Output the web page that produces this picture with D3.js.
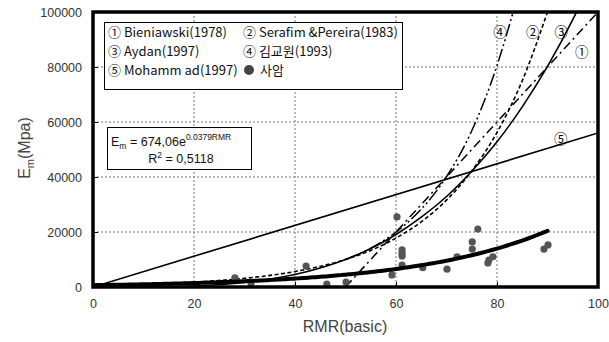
<!DOCTYPE html>
<html>
<head>
<meta charset="utf-8">
<script src="https://cdn.jsdelivr.net/npm/d3@7"></script>
<style>
  html, body { margin: 0; padding: 0; background: #fff; }
  svg { display: block; }
  text { font-family: "Liberation Sans", Arial, "Noto Sans CJK KR", sans-serif; }
  .kr { font-family: "Noto Sans CJK KR", "Liberation Sans", sans-serif; }
</style>
</head>
<body>
<svg id="chart" width="609" height="342"></svg>
<script>
// Axis ticks
const xTicks = [0, 20, 40, 60, 80, 100];
const yTicks = [0, 20000, 40000, 60000, 80000, 100000];

// Empirical relations, sampled as (RMR, Em [MPa])
const bieniawskiRMR = [50, 100];
const bieniawskiEm  = [0, 100000];

const serafimRMR = [0, 10, 20, 30, 40, 50, 55, 60, 65, 70, 75, 80, 85, 90];
const serafimEm  = [560, 1000, 1780, 3160, 5620, 10000, 13300, 17800, 23700, 31600, 42200, 56200, 75000, 100000];

const aydanRMR = [0, 10, 20, 30, 40, 50, 55, 60, 65, 70, 75, 80, 85, 90, 95, 96];
const aydanEm  = [0, 34, 390, 1640, 4550, 10000, 14000, 19100, 25400, 32900, 42100, 52800, 65500, 80200, 97200, 100900];

const kimRMR = [50, 55, 60, 65, 70, 75, 80, 83.2];
const kimEm  = [9980, 14100, 20000, 28300, 40100, 56800, 80500, 100000];

const mohammadRMR = [0, 100];
const mohammadEm  = [0, 56000];

// Sandstone measurements
const rockRMR = [28.1, 31.3, 42.2, 46.3, 50.1, 59.2, 60.2, 61.2, 61.2, 61.2, 61.2, 65.3, 70.1, 72.1, 75.1, 75.1, 76.2, 78.2, 78.4, 79.2, 89.3, 90.1];
const rockEm  = [3300, 1400, 7600, 1100, 1800, 4400, 25500, 13500, 12300, 11300, 8000, 7000, 6500, 11000, 16400, 13800, 21100, 8700, 9800, 11000, 13800, 15300];

// Regression on the sandstone data: Em = a * exp(b * RMR)
const fitA = 674.06;
const fitB = 0.0379;
const fitRange = [0, 90];

const legendItems = [
  { label: "① Bieniawski(1978)", col: 0, row: 0 },
  { label: "② Serafim &Pereira(1983)", col: 1, row: 0 },
  { label: "③ Aydan(1997)", col: 0, row: 1 },
  { label: "④ 김교원(1993)", col: 1, row: 1 },
  { label: "⑤ Mohamm ad(1997)", col: 0, row: 2 }
];

const svg = d3.select("#chart");
const pLeft = 93, pRight = 598, pTop = 12, pBottom = 287;
const x = d3.scaleLinear().domain([0, 100]).range([pLeft, pRight]);
const y = d3.scaleLinear().domain([0, 100000]).range([pBottom, pTop]);

svg.append("defs").append("clipPath").attr("id", "plotClip")
  .append("rect").attr("x", pLeft).attr("y", pTop)
  .attr("width", pRight - pLeft).attr("height", pBottom - pTop);

// Grid
const grid = svg.append("g");
grid.selectAll(".gx").data(xTicks.slice(1, -1)).join("line")
  .attr("x1", d => x(d)).attr("x2", d => x(d))
  .attr("y1", pTop).attr("y2", pBottom)
  .attr("stroke", "#777").attr("stroke-width", 1).attr("stroke-dasharray", "2,2");
grid.selectAll(".gy").data(yTicks.slice(1, -1)).join("line")
  .attr("y1", d => y(d)).attr("y2", d => y(d))
  .attr("x1", pLeft).attr("x2", pRight)
  .attr("stroke", "#777").attr("stroke-width", 1).attr("stroke-dasharray", "2,2");

// Axes
const xAxis = d3.axisBottom(x).tickValues(xTicks).tickFormat(d3.format("d")).tickSize(-5).tickPadding(12);
const yAxis = d3.axisLeft(y).tickValues(yTicks).tickFormat(d3.format("d")).tickSize(-5).tickPadding(11);
const gx = svg.append("g").attr("transform", `translate(0,${pBottom})`).call(xAxis);
const gy = svg.append("g").attr("transform", `translate(${pLeft},0)`).call(yAxis);
[gx, gy].forEach(g => {
  g.select(".domain").remove();
  g.selectAll("line").attr("stroke", "#000");
  g.selectAll("text").attr("font-size", 12.5).attr("fill", "#333")
    .style("font-family", "'Liberation Sans', Arial, sans-serif");
});

const plot = svg.append("g").attr("clip-path", "url(#plotClip)");
const line = d3.line().x(d => x(d[0])).y(d => y(d[1])).curve(d3.curveMonotoneX);
const zip = (a, b) => a.map((v, i) => [v, b[i]]);

function drawCurve(pts, dash, width) {
  plot.append("path").datum(pts)
    .attr("d", line)
    .attr("fill", "none").attr("stroke", "#000")
    .attr("stroke-width", width)
    .attr("stroke-dasharray", dash);
}
drawCurve(zip(mohammadRMR, mohammadEm), null, 1.6);
drawCurve(zip(aydanRMR, aydanEm), null, 1.6);
drawCurve(zip(serafimRMR, serafimEm), "4,2.5", 1.6);
drawCurve(zip(bieniawskiRMR, bieniawskiEm), "9,4,2,4", 1.5);
drawCurve(zip(kimRMR, kimEm), "13,3,2,3,2,3", 1.5);

// Sandstone points
plot.selectAll(".pt").data(zip(rockRMR, rockEm)).join("circle")
  .attr("cx", d => x(d[0])).attr("cy", d => y(d[1])).attr("r", 3.6)
  .attr("fill", "#555");

// Fitted exponential trend
const fitPts = d3.range(fitRange[0], fitRange[1] + 0.01, 1).map(r => [r, fitA * Math.exp(fitB * r)]);
plot.append("path").datum(fitPts).attr("d", line)
  .attr("fill", "none").attr("stroke", "#000").attr("stroke-width", 4).attr("stroke-linecap", "round");

// Frame
svg.append("rect").attr("x", pLeft).attr("y", pTop)
  .attr("width", pRight - pLeft).attr("height", pBottom - pTop)
  .attr("fill", "none").attr("stroke", "#000").attr("stroke-width", 3.5);

// Curve labels
const curveLabels = [
  { t: "④", r: 80.6, e: 93000 },
  { t: "②", r: 87.1, e: 93000 },
  { t: "③", r: 92.7, e: 93000 },
  { t: "①", r: 96.8, e: 86000 },
  { t: "⑤", r: 92.6, e: 54300 }
];
svg.selectAll(".cl").data(curveLabels).join("text")
  .attr("class", "kr")
  .attr("x", d => x(d.r)).attr("y", d => y(d.e))
  .attr("text-anchor", "middle").attr("dominant-baseline", "central")
  .attr("font-size", 13.5).attr("fill", "#000").text(d => d.t);

// Legend
const lg = svg.append("g");
lg.append("rect").attr("x", 104.5).attr("y", 22.5).attr("width", 298).attr("height", 67)
  .attr("fill", "#fff").attr("stroke", "#000").attr("stroke-width", 1);
const colX = [108, 243], rowY = [37, 56, 75];
lg.selectAll(".li").data(legendItems).join("text")
  .attr("class", "kr")
  .attr("x", d => colX[d.col]).attr("y", d => rowY[d.row])
  .attr("font-size", 13).attr("fill", "#111").text(d => d.label);
lg.append("circle").attr("cx", colX[1] + 6).attr("cy", rowY[2] - 5).attr("r", 5).attr("fill", "#444");
lg.append("text").attr("class", "kr").attr("x", colX[1] + 17).attr("y", rowY[2])
  .attr("font-size", 13).attr("fill", "#111").text("사암");

// Regression equation box
const eq = svg.append("g");
eq.append("rect").attr("x", 107.5).attr("y", 127.5).attr("width", 144).attr("height", 42)
  .attr("fill", "#fff").attr("stroke", "#000").attr("stroke-width", 1);
const t1 = eq.append("text").attr("x", 111).attr("y", 146).attr("font-size", 12.5).attr("fill", "#111");
t1.append("tspan").text("E");
t1.append("tspan").attr("font-size", 8.5).attr("dy", 3).text("m");
t1.append("tspan").attr("dy", -3).text(" = 674,06e");
t1.append("tspan").attr("font-size", 8.5).attr("dy", -6).text("0.0379RMR");
const t2 = eq.append("text").attr("x", 181).attr("y", 163).attr("text-anchor", "middle")
  .attr("font-size", 12.5).attr("fill", "#111");
t2.append("tspan").text("R");
t2.append("tspan").attr("font-size", 8.5).attr("dy", -5).text("2");
t2.append("tspan").attr("dy", 5).text(" = 0,5118");

// Axis titles
svg.append("text").attr("x", 345).attr("y", 332).attr("text-anchor", "middle")
  .attr("font-size", 16).attr("fill", "#444").text("RMR(basic)");
const yt = svg.append("text").attr("transform", "translate(30,148) rotate(-90)")
  .attr("text-anchor", "middle").attr("font-size", 16).attr("fill", "#444");
yt.append("tspan").text("E");
yt.append("tspan").attr("font-size", 11).attr("dy", 4).text("m");
yt.append("tspan").attr("dy", -4).text("(Mpa)");
</script>
</body>
</html>
